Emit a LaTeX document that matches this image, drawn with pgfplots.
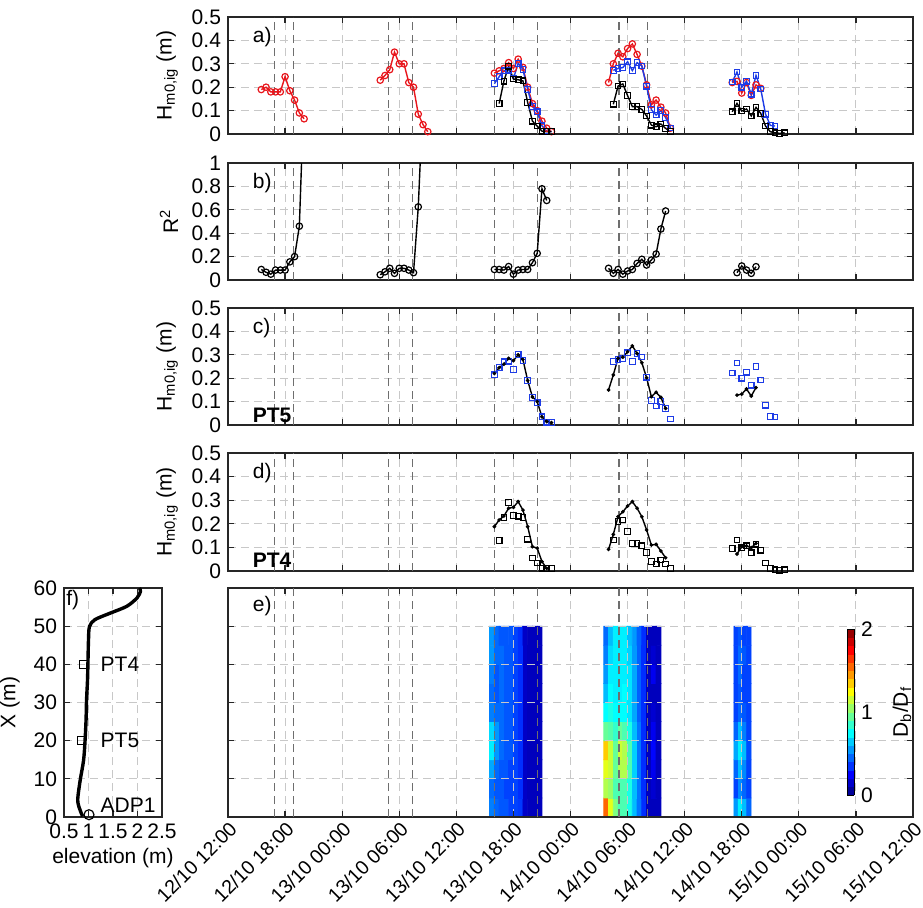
\documentclass[border=0pt]{standalone}
\usepackage{fontspec}
\setmainfont{Liberation Sans}
\usepackage{pgfplots}
\pgfplotsset{compat=1.18}

\definecolor{hred}{HTML}{E8161C}
\definecolor{hblue}{HTML}{1E3CE6}
\definecolor{gridgray}{HTML}{C8C8C8}
\definecolor{tidegray}{HTML}{6E6E6E}

\newcommand{\fs}{\fontsize{10.5}{12}\selectfont}

\pgfplotsset{
  base/.style={
    scale only axis,
    tick align=inside, major tick length=3pt,
    axis line style={line width=0.9pt, black!85},
    tick style={line width=0.6pt, black!85},
    grid=major,
    major grid style={gridgray, line width=0.5pt, dash pattern=on 4pt off 2.5pt},
    tick label style={font=\fs},
    label style={font=\fs},
    /pgf/number format/assume math mode=true,
    unbounded coords=jump,
  },
  panel/.style={
    base, width=342.5pt,
    xmin=0, xmax=72, xtick={0,6,...,72},
    extra x ticks={4.87,6.86,16.85,19.37,27.99,32.55,41.1,44.07},
    extra x tick labels={},
    extra x tick style={major tick length=0pt, grid=major,
      major grid style={tidegray, line width=0.75pt, dash pattern=on 4pt off 2.5pt}},
  },
  notime/.style={xticklabels={}},
  hline/.style={line width=0.7pt, mark options={solid, line width=0.6pt}},
}

\begin{document}
\begin{tikzpicture}
\path[use as bounding box] (0pt,0pt) rectangle (461.5pt,-453.5pt);

% a) Hm0,ig at three sensors
\begin{axis}[panel, notime, at={(114pt,-8.5pt)}, anchor=north west,
  height=58.5pt, ymin=0, ymax=0.5, ytick={0,0.1,0.2,0.3,0.4,0.5},
  ylabel={H\textsubscript{m0,ig} (m)}]
\addplot[hline, hred, mark=o, mark size=1.6pt] coordinates {
  (3.5,0.19)(4,0.20)(4.5,0.18)(5,0.18)(5.5,0.18)(6,0.245)(6.5,0.185)(7,0.145)(7.5,0.09)(8,0.065)
  (12,nan)
  (16,0.23)(16.5,0.25)(17,0.275)(17.5,0.35)(18,0.30)(18.5,0.30)(19,0.22)(19.5,0.20)(20,0.085)(20.5,0.04)(21,0.01)
  (25,nan)
  (28,0.26)(28.5,0.27)(29,0.28)(29.5,0.305)(30,0.28)(30.5,0.32)(31,0.285)(31.5,0.20)(32,0.13)(32.5,0.10)(33,0.055)(33.5,0.025)(34,0.01)
  (37,nan)
  (40,0.22)(40.5,0.30)(41,0.345)(41.5,0.33)(42,0.365)(42.5,0.385)(43,0.34)(43.5,0.29)(44,0.21)(44.5,0.125)(45,0.145)(45.5,0.115)(46,0.09)(46.5,0.025)
  (50,nan)
  (53,0.22)(53.5,0.225)(54,0.175)(54.5,0.22)(55,0.165)(55.5,0.21)(56,0.195)};
\addplot[hline, hblue, mark=square, mark size=1.4pt] coordinates {
  (28,0.215)(28.5,0.245)(29,0.27)(29.5,0.273)(30,0.237)(30.5,0.302)(31,0.276)(31.5,0.19)(32,0.118)(32.5,0.095)(33,0.035)(33.5,0.012)(34,0.01)
  (37,nan)
  (40.5,0.272)(41,0.28)(41.5,0.284)(42,0.309)(42.5,0.271)(43,0.305)(43.5,0.291)(44,0.204)(44.5,0.104)(45,0.081)(45.5,0.1)(46,0.07)(46.5,0.026)
  (50,nan)
  (53,0.222)(53.5,0.265)(54,0.2)(54.5,0.226)(55,0.17)(55.5,0.25)(56,0.192)(56.5,0.085)(57,0.037)(57.5,0.034)};
\addplot[hline, black, mark=square, mark size=1.4pt] coordinates {
  (28.5,0.13)(29,0.226)(29.5,0.29)(30,0.235)(30.5,0.232)(31,0.227)(31.5,0.135)(32,0.055)(32.5,0.034)(33,0.012)(33.5,0.01)(34,0.01)
  (37,nan)
  (40.5,0.127)(41,0.205)(41.5,0.214)(42,0.164)(42.5,0.117)(43,0.117)(43.5,0.105)(44,0.077)(44.5,0.038)(45,0.031)(45.5,0.043)(46,0.024)(46.5,0.01)
  (50,nan)
  (53,0.095)(53.5,0.131)(54,0.098)(54.5,0.107)(55,0.077)(55.5,0.114)(56,0.088)(56.5,0.034)(57,0.01)(57.5,0.005)(58,0.003)(58.5,0.005)};
\node[anchor=west, font=\fs] at (rel axis cs:0.026,0.83) {a)};
\end{axis}

% b) R^2
\begin{axis}[panel, notime, at={(114pt,-81.5pt)}, anchor=north west,
  height=58.5pt, ymin=0, ymax=1, ytick={0,0.2,0.4,0.6,0.8,1},
  ylabel={R\textsuperscript{2}}, clip marker paths=true]
\addplot[hline, black, mark=o, mark size=1.6pt] coordinates {
  (3.5,0.09)(4,0.066)(4.5,0.05)(5,0.085)(5.5,0.085)(6,0.085)(6.5,0.155)(7,0.2)(7.5,0.46)(8,1.63)
  (12,nan)
  (16,0.045)(16.5,0.07)(17,0.1)(17.5,0.057)(18,0.1)(18.5,0.1)(19,0.085)(19.5,0.063)(20,0.625)(20.5,1.56)
  (25,nan)
  (28,0.09)(28.5,0.09)(29,0.085)(29.5,0.115)(30,0.05)(30.5,0.085)(31,0.09)(31.5,0.09)(32,0.148)(32.5,0.228)(33,0.78)(33.5,0.68)
  (37,nan)
  (40,0.1)(40.5,0.057)(41,0.09)(41.5,0.05)(42,0.077)(42.5,0.09)(43,0.142)(43.5,0.177)(44,0.128)(44.5,0.171)(45,0.222)(45.5,0.436)(46,0.59)
  (50,nan)
  (53.5,0.063)(54,0.12)(54.5,0.085)(55,0.057)(55.5,0.114)};
\node[anchor=west, font=\fs] at (rel axis cs:0.026,0.83) {b)};
\end{axis}

% c) PT5
\begin{axis}[panel, notime, at={(114pt,-154pt)}, anchor=north west,
  height=58.5pt, ymin=0, ymax=0.5, ytick={0,0.1,0.2,0.3,0.4,0.5},
  ylabel={H\textsubscript{m0,ig} (m)}]
\addplot[only marks, hblue, mark=square, mark size=1.4pt, mark options={line width=0.6pt}] coordinates {
  (28,0.215)(28.5,0.245)(29,0.27)(29.5,0.273)(30,0.237)(30.5,0.302)(31,0.276)(31.5,0.19)(32,0.118)(32.5,0.095)(33,0.035)(33.5,0.012)(34,0.01)
  (40.5,0.272)(41,0.28)(41.5,0.284)(42,0.309)(42.5,0.271)(43,0.305)(43.5,0.291)(44,0.204)(44.5,0.104)(45,0.081)(45.5,0.1)(46,0.07)(46.5,0.026)
  (53,0.222)(53.5,0.265)(54,0.2)(54.5,0.226)(55,0.17)(55.5,0.25)(56,0.192)(56.5,0.085)(57,0.037)(57.5,0.034)};
\addplot[hline, black, mark=*, mark size=0.6pt] coordinates {
  (28,0.22)(28.5,0.245)(29,0.26)(29.5,0.285)(30,0.275)(30.5,0.30)(31,0.28)(31.5,0.19)(32,0.12)(32.5,0.10)(33,0.035)(33.5,0.015)(34,0.01)
  (37,nan)
  (40,0.15)(40.5,0.214)(41,0.285)(41.5,0.29)(42,0.313)(42.5,0.338)(43,0.306)(43.5,0.266)(44,0.202)(44.5,0.121)(45,0.14)(45.5,0.118)(46,0.071)
  (50,nan)
  (53.5,0.128)(54,0.132)(54.5,0.154)(55,0.124)(55.5,0.16)};
\node[anchor=west, font=\fs] at (rel axis cs:0.026,0.83) {c)};
\node[anchor=west, font=\fs\bfseries] at (rel axis cs:0.026,0.08) {PT5};
\end{axis}

% d) PT4
\begin{axis}[panel, notime, at={(114pt,-226.5pt)}, anchor=north west,
  height=59pt, ymin=0, ymax=0.5, ytick={0,0.1,0.2,0.3,0.4,0.5},
  ylabel={H\textsubscript{m0,ig} (m)}]
\addplot[only marks, black, mark=square, mark size=1.4pt, mark options={line width=0.6pt}] coordinates {
  (28.5,0.13)(29,0.226)(29.5,0.29)(30,0.235)(30.5,0.232)(31,0.227)(31.5,0.135)(32,0.055)(32.5,0.034)(33,0.012)(33.5,0.01)(34,0.01)
  (40.5,0.131)(41,0.209)(41.5,0.216)(42,0.167)(42.5,0.117)(43,0.117)(43.5,0.107)(44,0.078)(44.5,0.04)(45,0.03)(45.5,0.047)(46,0.03)(46.5,0.011)
  (53,0.095)(53.5,0.131)(54,0.098)(54.5,0.107)(55,0.077)(55.5,0.114)(56,0.088)(56.5,0.034)(57,0.01)(57.5,0.005)(58,0.003)(58.5,0.005)};
\addplot[hline, black, mark=*, mark size=0.6pt] coordinates {
  (28,0.188)(28.5,0.216)(29,0.233)(29.5,0.266)(30,0.27)(30.5,0.294)(31,0.258)(31.5,0.188)(32,0.103)(32.5,0.097)(33,0.04)(33.5,0.011)
  (37,nan)
  (40,0.092)(40.5,0.155)(41,0.23)(41.5,0.251)(42,0.275)(42.5,0.294)(43,0.266)(43.5,0.23)(44,0.174)(44.5,0.11)(45,0.113)(45.5,0.085)(46,0.056)
  (50,nan)
  (53.5,0.072)(54,0.103)(54.5,0.106)(55,0.099)(55.5,0.117)};
\node[anchor=west, font=\fs] at (rel axis cs:0.026,0.83) {d)};
\node[anchor=west, font=\fs\bfseries] at (rel axis cs:0.026,0.09) {PT4};
\end{axis}

% e) Db/Df along the profile
\begin{axis}[panel, at={(114pt,-294pt)}, anchor=north west,
  height=114.5pt, ymin=0, ymax=60, ytick={0,10,...,60}, yticklabels={},
  axis on top, colormap/jet, point meta min=0, point meta max=2,
  xticklabels={12/10 12:00,12/10 18:00,13/10 00:00,13/10 06:00,13/10 12:00,13/10 18:00,14/10 00:00,14/10 06:00,14/10 12:00,14/10 18:00,15/10 00:00,15/10 06:00,15/10 12:00},
  xticklabel style={rotate=45, anchor=north east, inner sep=1pt, font=\fontsize{9.8}{11}\selectfont},
  colorbar sampled,
  colorbar style={at={(parent axis.south west)}, anchor=south west,
    xshift=301pt, yshift=11pt, scale only axis, width=3.5pt, height=83pt,
    samples=21,
    ytick={0,1,2}, yticklabel pos=right, ylabel near ticks,
    major tick length=0pt, tick label style={font=\fs}, label style={font=\fs},
    ylabel={D\textsubscript{b}/D\textsubscript{f}},
    ylabel style={yshift=-3pt},
    axis line style={line width=0.4pt},
    /pgf/number format/assume math mode=true}]
\addplot[matrix plot*, mesh/cols=11, point meta=explicit] coordinates {
(27.75,2.5)[0.50] (28.25,2.5)[0.45] (28.75,2.5)[0.42] (29.25,2.5)[0.42] (29.75,2.5)[0.38] (30.25,2.5)[0.38] (30.75,2.5)[0.36] (31.25,2.5)[0.14] (31.75,2.5)[0.12] (32.25,2.5)[0.12] (32.75,2.5)[0.12]
(27.75,7.5)[0.46] (28.25,7.5)[0.42] (28.75,7.5)[0.42] (29.25,7.5)[0.38] (29.75,7.5)[0.38] (30.25,7.5)[0.38] (30.75,7.5)[0.34] (31.25,7.5)[0.14] (31.75,7.5)[0.12] (32.25,7.5)[0.12] (32.75,7.5)[0.12]
(27.75,12.5)[0.58] (28.25,12.5)[0.46] (28.75,12.5)[0.42] (29.25,12.5)[0.42] (29.75,12.5)[0.38] (30.25,12.5)[0.38] (30.75,12.5)[0.34] (31.25,12.5)[0.14] (31.75,12.5)[0.12] (32.25,12.5)[0.12] (32.75,12.5)[0.12]
(27.75,17.5)[0.72] (28.25,17.5)[0.55] (28.75,17.5)[0.46] (29.25,17.5)[0.42] (29.75,17.5)[0.42] (30.25,17.5)[0.38] (30.75,17.5)[0.34] (31.25,17.5)[0.14] (31.75,17.5)[0.12] (32.25,17.5)[0.12] (32.75,17.5)[0.12]
(27.75,22.5)[0.68] (28.25,22.5)[0.55] (28.75,22.5)[0.46] (29.25,22.5)[0.42] (29.75,22.5)[0.42] (30.25,22.5)[0.38] (30.75,22.5)[0.34] (31.25,22.5)[0.14] (31.75,22.5)[0.12] (32.25,22.5)[0.12] (32.75,22.5)[0.12]
(27.75,27.5)[0.50] (28.25,27.5)[0.46] (28.75,27.5)[0.46] (29.25,27.5)[0.42] (29.75,27.5)[0.42] (30.25,27.5)[0.38] (30.75,27.5)[0.34] (31.25,27.5)[0.14] (31.75,27.5)[0.12] (32.25,27.5)[0.12] (32.75,27.5)[0.12]
(27.75,32.5)[0.46] (28.25,32.5)[0.42] (28.75,32.5)[0.46] (29.25,32.5)[0.42] (29.75,32.5)[0.42] (30.25,32.5)[0.38] (30.75,32.5)[0.34] (31.25,32.5)[0.14] (31.75,32.5)[0.12] (32.25,32.5)[0.12] (32.75,32.5)[0.12]
(27.75,37.5)[0.50] (28.25,37.5)[0.42] (28.75,37.5)[0.46] (29.25,37.5)[0.42] (29.75,37.5)[0.42] (30.25,37.5)[0.38] (30.75,37.5)[0.34] (31.25,37.5)[0.14] (31.75,37.5)[0.12] (32.25,37.5)[0.12] (32.75,37.5)[0.12]
(27.75,42.5)[0.55] (28.25,42.5)[0.46] (28.75,42.5)[0.46] (29.25,42.5)[0.42] (29.75,42.5)[0.42] (30.25,42.5)[0.38] (30.75,42.5)[0.34] (31.25,42.5)[0.14] (31.75,42.5)[0.12] (32.25,42.5)[0.12] (32.75,42.5)[0.12]
(27.75,47.5)[0.55] (28.25,47.5)[0.46] (28.75,47.5)[0.42] (29.25,47.5)[0.42] (29.75,47.5)[0.42] (30.25,47.5)[0.38] (30.75,47.5)[0.34] (31.25,47.5)[0.14] (31.75,47.5)[0.12] (32.25,47.5)[0.12] (32.75,47.5)[0.12]
};
\addplot[matrix plot*, mesh/cols=12, point meta=explicit] coordinates {
(39.75,2.5)[1.55] (40.25,2.5)[1.20] (40.75,2.5)[1.00] (41.25,2.5)[0.90] (41.75,2.5)[0.90] (42.25,2.5)[0.80] (42.75,2.5)[0.62] (43.25,2.5)[0.48] (43.75,2.5)[0.34] (44.25,2.5)[0.12] (44.75,2.5)[0.12] (45.25,2.5)[0.12]
(39.75,7.5)[1.10] (40.25,7.5)[1.05] (40.75,7.5)[0.90] (41.25,7.5)[0.90] (41.75,7.5)[0.90] (42.25,7.5)[0.80] (42.75,7.5)[0.62] (43.25,7.5)[0.48] (43.75,7.5)[0.34] (44.25,7.5)[0.12] (44.75,7.5)[0.16] (45.25,7.5)[0.12]
(39.75,12.5)[1.20] (40.25,12.5)[1.15] (40.75,12.5)[0.95] (41.25,12.5)[1.10] (41.75,12.5)[1.10] (42.25,12.5)[0.90] (42.75,12.5)[0.66] (43.25,12.5)[0.48] (43.75,12.5)[0.34] (44.25,12.5)[0.12] (44.75,12.5)[0.22] (45.25,12.5)[0.12]
(39.75,17.5)[1.35] (40.25,17.5)[1.15] (40.75,17.5)[0.95] (41.25,17.5)[1.15] (41.75,17.5)[1.10] (42.25,17.5)[0.90] (42.75,17.5)[0.66] (43.25,17.5)[0.48] (43.75,17.5)[0.34] (44.25,17.5)[0.12] (44.75,17.5)[0.26] (45.25,17.5)[0.12]
(39.75,22.5)[0.95] (40.25,22.5)[0.92] (40.75,22.5)[0.85] (41.25,22.5)[0.95] (41.75,22.5)[0.90] (42.25,22.5)[0.80] (42.75,22.5)[0.62] (43.25,22.5)[0.48] (43.75,22.5)[0.34] (44.25,22.5)[0.12] (44.75,22.5)[0.22] (45.25,22.5)[0.12]
(39.75,27.5)[0.75] (40.25,27.5)[0.80] (40.75,27.5)[0.75] (41.25,27.5)[0.75] (41.75,27.5)[0.75] (42.25,27.5)[0.70] (42.75,27.5)[0.58] (43.25,27.5)[0.44] (43.75,27.5)[0.34] (44.25,27.5)[0.12] (44.75,27.5)[0.16] (45.25,27.5)[0.12]
(39.75,32.5)[0.62] (40.25,32.5)[0.75] (40.75,32.5)[0.72] (41.25,32.5)[0.72] (41.75,32.5)[0.75] (42.25,32.5)[0.70] (42.75,32.5)[0.58] (43.25,32.5)[0.44] (43.75,32.5)[0.34] (44.25,32.5)[0.12] (44.75,32.5)[0.12] (45.25,32.5)[0.12]
(39.75,37.5)[0.55] (40.25,37.5)[0.72] (40.75,37.5)[0.72] (41.25,37.5)[0.72] (41.75,37.5)[0.72] (42.25,37.5)[0.70] (42.75,37.5)[0.58] (43.25,37.5)[0.44] (43.75,37.5)[0.34] (44.25,37.5)[0.12] (44.75,37.5)[0.22] (45.25,37.5)[0.12]
(39.75,42.5)[0.50] (40.25,42.5)[0.68] (40.75,42.5)[0.72] (41.25,42.5)[0.72] (41.75,42.5)[0.72] (42.25,42.5)[0.66] (42.75,42.5)[0.55] (43.25,42.5)[0.44] (43.75,42.5)[0.34] (44.25,42.5)[0.12] (44.75,42.5)[0.16] (45.25,42.5)[0.12]
(39.75,47.5)[0.46] (40.25,47.5)[0.62] (40.75,47.5)[0.72] (41.25,47.5)[0.72] (41.75,47.5)[0.72] (42.25,47.5)[0.62] (42.75,47.5)[0.55] (43.25,47.5)[0.44] (43.75,47.5)[0.34] (44.25,47.5)[0.12] (44.75,47.5)[0.12] (45.25,47.5)[0.12]
};
\addplot[matrix plot*, mesh/cols=4, point meta=explicit] coordinates {
(53.4,2.5)[0.55] (53.85,2.5)[0.72] (54.3,2.5)[0.62] (54.75,2.5)[0.45]
(53.4,7.5)[0.38] (53.85,7.5)[0.52] (54.3,7.5)[0.45] (54.75,7.5)[0.38]
(53.4,12.5)[0.45] (53.85,12.5)[0.62] (54.3,12.5)[0.52] (54.75,12.5)[0.38]
(53.4,17.5)[0.58] (53.85,17.5)[0.72] (54.3,17.5)[0.62] (54.75,17.5)[0.40]
(53.4,22.5)[0.45] (53.85,22.5)[0.62] (54.3,22.5)[0.50] (54.75,22.5)[0.38]
(53.4,27.5)[0.38] (53.85,27.5)[0.45] (54.3,27.5)[0.42] (54.75,27.5)[0.38]
(53.4,32.5)[0.38] (53.85,32.5)[0.42] (54.3,32.5)[0.38] (54.75,32.5)[0.38]
(53.4,37.5)[0.38] (53.85,37.5)[0.46] (54.3,37.5)[0.38] (54.75,37.5)[0.38]
(53.4,42.5)[0.38] (53.85,42.5)[0.46] (54.3,42.5)[0.42] (54.75,42.5)[0.38]
(53.4,47.5)[0.38] (53.85,47.5)[0.42] (54.3,47.5)[0.38] (54.75,47.5)[0.38]
};
\node[anchor=west, font=\fs] at (rel axis cs:0.026,0.92) {e)};
\end{axis}

% f) beach profile
\begin{axis}[base, at={(32pt,-294pt)}, anchor=north west,
  width=49pt, height=114.5pt, xmin=0.5, xmax=2.5, ymin=0, ymax=60,
  xtick={0.5,1,1.5,2,2.5}, ytick={0,10,...,60},
  xlabel={elevation (m)}, ylabel={X (m)},
  xlabel style={yshift=2pt}, clip=false]
\addplot[black, line width=1.7pt, smooth] coordinates {
  (0.88,0.2)(0.83,1.75)(0.78,4.4)(0.83,9.6)(0.90,14.9)(0.93,20.1)(0.95,25.4)(0.96,30.6)
  (0.98,35.9)(0.99,41.2)(1.0,46.4)(1.02,49.9)(1.13,51.7)(1.44,53.4)(1.78,55.2)(1.99,57.4)(2.06,59.1)(2.04,60)};
\addplot[only marks, black, mark=square, mark size=2pt, mark options={line width=0.6pt}] coordinates {(0.9,40)(0.85,20)};
\addplot[only marks, black, mark=o, mark size=2.5pt, mark options={line width=0.6pt}] coordinates {(1.01,0.6)};
\node[anchor=west, font=\fs, inner sep=1pt] at (axis cs:1.2,40) {PT4};
\node[anchor=west, font=\fs, inner sep=1pt] at (axis cs:1.2,20) {PT5};
\node[anchor=west, font=\fs, inner sep=1pt] at (axis cs:1.2,3) {ADP1};
\node[anchor=north west, font=\fs, inner sep=1pt] at (rel axis cs:0.0,1.0) {f)};
\end{axis}
\end{tikzpicture}
\end{document}
